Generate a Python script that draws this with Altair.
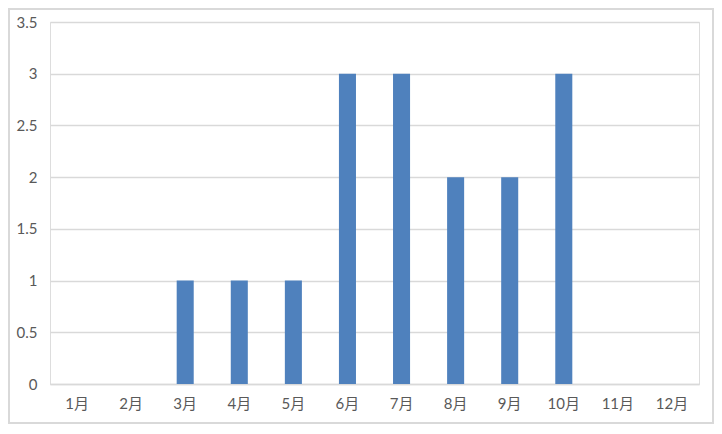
import altair as alt
import pandas as pd

months = ["1月", "2月", "3月", "4月", "5月", "6月", "7月", "8月", "9月", "10月", "11月", "12月"]
values = [0, 0, 1, 1, 1, 3, 3, 2, 2, 3, 0, 0]
y_ticks = [0, 0.5, 1, 1.5, 2, 2.5, 3, 3.5]

df = pd.DataFrame({"month": months, "value": values})

W, H = 649, 362
PL, PT, PR, PB = 42, 14, 15, 40
FONT = "Lato, Noto Sans CJK SC, sans-serif"

bars = alt.Chart(df).mark_bar(color="#4f81bd").encode(
    x=alt.X("month:N", sort=months,
            scale=alt.Scale(paddingInner=0.685, paddingOuter=0.3425),
            axis=alt.Axis(title=None, labelAngle=0, ticks=False, domain=True,
                          domainColor="#d9d9d9", domainWidth=1.5, labelPadding=12,
                          labelFont=FONT, labelFontSize=15, labelColor="#595959")),
    y=alt.Y("value:Q", scale=alt.Scale(domain=[0, 3.5], nice=False),
            axis=alt.Axis(title=None, values=y_ticks, ticks=False, domain=False,
                          gridColor="#d9d9d9", gridWidth=1.5, labelPadding=13,
                          labelFont=FONT, labelFontSize=15, labelColor="#595959",
                          labelExpr="datum.value == 0 ? '0' : format(datum.value, '~g')")),
)

border = alt.Chart(pd.DataFrame({"a": [0]})).mark_rect(
    fill=None, stroke="#d9d9d9", strokeWidth=2
).encode(
    x=alt.value(-PL + 1), x2=alt.value(W + PR - 1),
    y=alt.value(-PT + 1), y2=alt.value(H + PB - 1),
)

chart = alt.layer(bars, border).properties(
    width=W, height=H,
    autosize=alt.AutoSizeParams(type="none"),
    padding={"left": PL, "top": PT, "right": PR, "bottom": PB},
).configure_view(stroke=None).configure(background="white")

chart.save("out.html", embed_options={"renderer": "svg", "actions": False})
